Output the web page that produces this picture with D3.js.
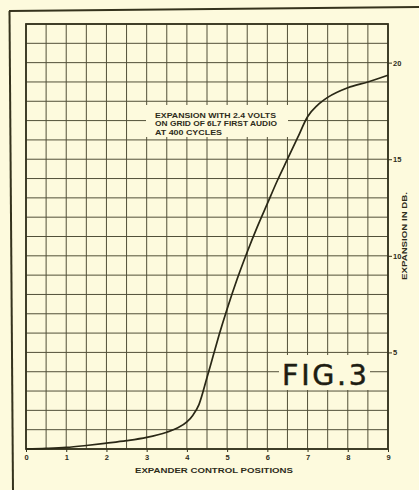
<!DOCTYPE html>
<html>
<head>
<meta charset="utf-8">
<script src="https://cdn.jsdelivr.net/npm/d3@7"></script>
<style>
  html, body { margin: 0; padding: 0; background: #fdfadd; }
  svg { display: block; }
  .lbl { font-family: "Liberation Sans", Arial, sans-serif; font-weight: bold; fill: #2e2c1a; }
</style>
</head>
<body>
<svg id="chart" width="419" height="490"></svg>
<script>
// Expander control position vs. expansion (dB)
const positions = [0, 0.5, 1, 1.5, 2, 2.5, 3, 3.5, 3.75, 4, 4.15, 4.3, 4.5, 4.65, 4.8, 5, 5.25, 5.5, 5.75, 6, 6.25, 6.5, 6.75, 7, 7.25, 7.5, 8, 8.5, 9];
const expansionDb = [0, 0.03, 0.08, 0.18, 0.3, 0.43, 0.6, 0.87, 1.07, 1.4, 1.75, 2.3, 3.7, 4.8, 5.9, 7.25, 8.8, 10.2, 11.5, 12.7, 13.9, 15.0, 16.1, 17.2, 17.8, 18.2, 18.7, 19.0, 19.35];
const xTicks = [0, 1, 2, 3, 4, 5, 6, 7, 8, 9];
const yTicks = [5, 10, 15, 20];
const noteLines = ["EXPANSION WITH 2.4 VOLTS", "ON GRID OF 6L7 FIRST AUDIO", "AT 400 CYCLES"];

const ink = "#35331d";
const paper = "#fdfadd";

const svg = d3.select("#chart");
const plot = { left: 26, right: 388, top: 24, bottom: 449 };

const x = d3.scaleLinear().domain([0, 9]).range([plot.left, plot.right]);
const y = d3.scaleLinear().domain([0, 22]).range([plot.bottom, plot.top]);

// outer frame lines of the printed figure
svg.append("line").attr("x1", 9).attr("y1", 11).attr("x2", 419).attr("y2", 7)
  .attr("stroke", ink).attr("stroke-width", 2);
svg.append("line").attr("x1", 9.5).attr("y1", 11).attr("x2", 13).attr("y2", 490)
  .attr("stroke", ink).attr("stroke-width", 2);

// grid: half-position columns, 1 dB rows
const grid = svg.append("g").attr("stroke", ink).attr("stroke-width", 1).attr("opacity", 0.85);
grid.selectAll("line.v").data(d3.range(0, 9.01, 0.5)).join("line").attr("class", "v")
  .attr("x1", d => x(d)).attr("x2", d => x(d)).attr("y1", plot.top).attr("y2", plot.bottom);
grid.selectAll("line.h").data(d3.range(0, 22.01, 1)).join("line").attr("class", "h")
  .attr("x1", plot.left).attr("x2", plot.right).attr("y1", d => y(d)).attr("y2", d => y(d));

// plot border
svg.append("rect").attr("x", plot.left).attr("y", plot.top)
  .attr("width", plot.right - plot.left).attr("height", plot.bottom - plot.top)
  .attr("fill", "none").attr("stroke", ink).attr("stroke-width", 1.8);

// axes
const xAxis = svg.append("g").attr("transform", `translate(0,${plot.bottom})`)
  .call(d3.axisBottom(x).tickValues(xTicks).tickSize(3).tickPadding(3).tickFormat(d3.format("d")));
const yAxis = svg.append("g").attr("transform", `translate(${plot.right},0)`)
  .call(d3.axisRight(y).tickValues(yTicks).tickSize(4).tickPadding(1).tickFormat(d3.format("d")));
[xAxis, yAxis].forEach(a => {
  a.select(".domain").remove();
  a.selectAll(".tick line").attr("stroke", ink).attr("stroke-width", 1);
  a.selectAll(".tick text").attr("class", "lbl").attr("font-size", 7.5).attr("fill", ink);
});

// note box and text
svg.append("rect").attr("x", 146).attr("y", 105).attr("width", 142).attr("height", 32).attr("fill", paper);
const note = svg.append("g");
const noteLens = [121, 122, 67];
noteLines.forEach((t, i) => {
  note.append("text").attr("class", "lbl")
    .attr("x", 155).attr("y", 118 + i * 8.3)
    .attr("font-size", 6.6)
    .attr("textLength", noteLens[i]).attr("lengthAdjust", "spacingAndGlyphs")
    .text(t);
});

// figure label
svg.append("rect").attr("x", 279).attr("y", 355).attr("width", 91).attr("height", 35).attr("fill", paper);
svg.append("text")
  .attr("x", 282).attr("y", 385)
  .attr("font-family", "'DejaVu Sans', sans-serif")
  .attr("font-size", 28.5).attr("fill", "#1e1d12")
  .attr("stroke", "#1e1d12").attr("stroke-width", 0.5)
  .attr("textLength", 85).attr("lengthAdjust", "spacing")
  .text("FIG.3");

// curve
const line = d3.line().x((d, i) => x(positions[i])).y(d => y(d)).curve(d3.curveMonotoneX);
svg.append("path").datum(expansionDb)
  .attr("d", line)
  .attr("fill", "none").attr("stroke", "#2a2816").attr("stroke-width", 1.7);

// axis titles
svg.append("text").attr("class", "lbl")
  .attr("x", 214).attr("y", 473).attr("text-anchor", "middle")
  .attr("font-size", 7.5)
  .attr("textLength", 158).attr("lengthAdjust", "spacingAndGlyphs")
  .text("EXPANDER CONTROL POSITIONS");
svg.append("text").attr("class", "lbl")
  .attr("transform", "translate(407,236) rotate(-90)")
  .attr("text-anchor", "middle")
  .attr("font-size", 7.5)
  .attr("textLength", 88).attr("lengthAdjust", "spacingAndGlyphs")
  .text("EXPANSION IN DB.");
</script>
</body>
</html>
